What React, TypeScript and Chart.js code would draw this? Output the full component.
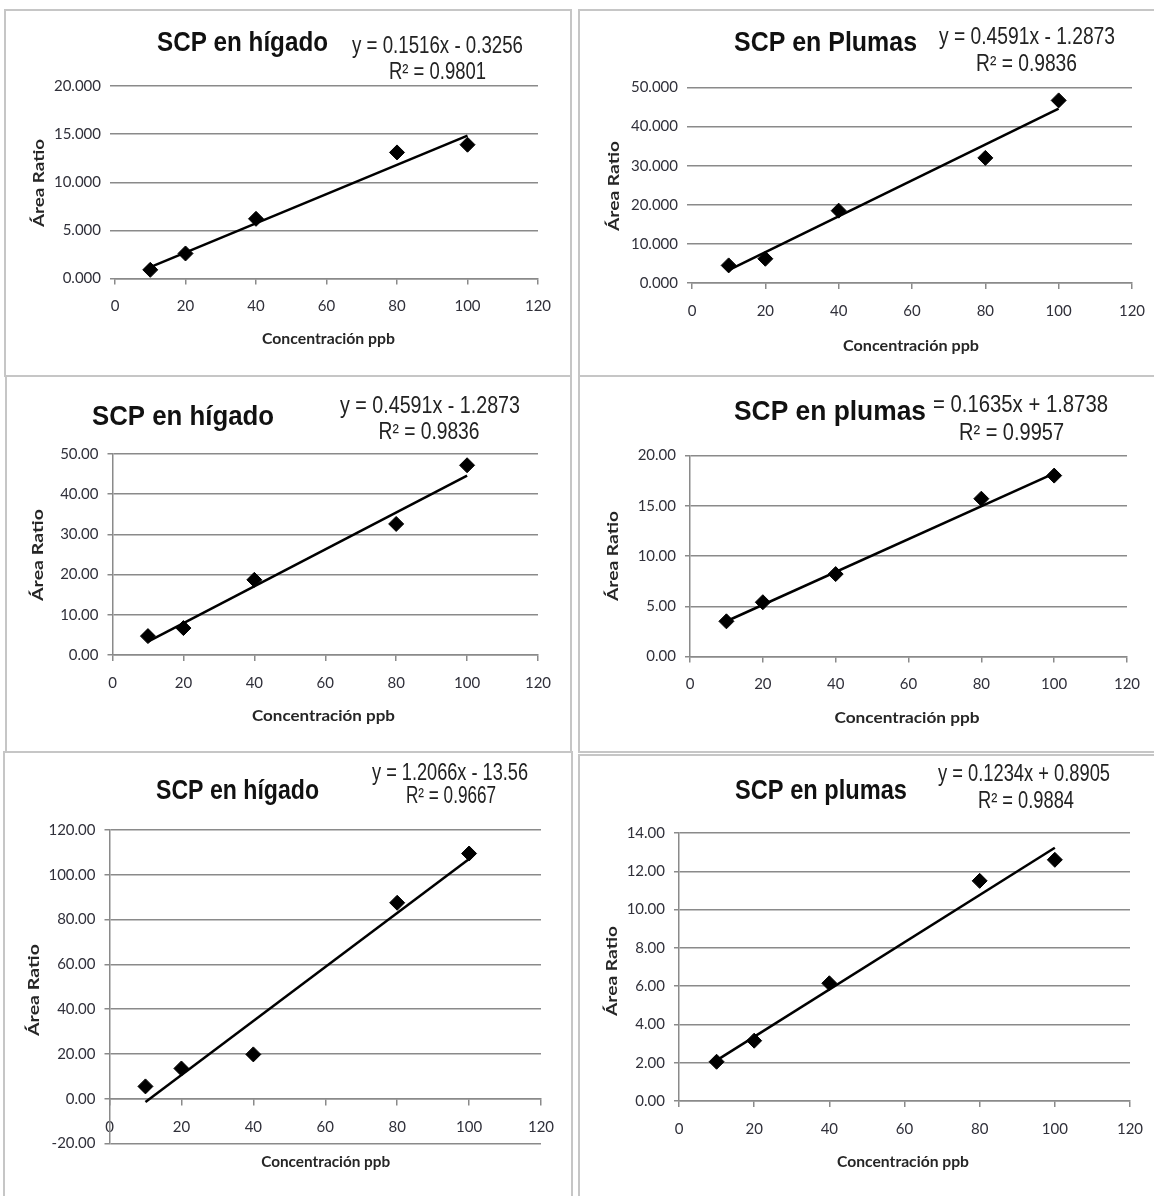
import React, { useEffect, useRef } from "react";
import { Chart, registerables } from "chart.js";

Chart.register(...registerables);

// ---------------- data ----------------
const concentrationPpb = [10, 20, 40, 80, 100];

const higadoA = [0.9, 2.6, 6.2, 13.1, 13.9];
const plumasA = [4.5, 6.2, 18.5, 32.0, 46.7];
const higadoB = [4.7, 6.7, 18.7, 32.6, 47.2];
const plumasB = [3.5, 5.4, 8.2, 15.7, 18.0];
const higadoC = [5.5, 13.5, 19.8, 87.5, 109.5];
const plumasC = [2.05, 3.15, 6.15, 11.5, 12.6];

const seriesByPanel = [higadoA, plumasA, higadoB, plumasB, higadoC, plumasC];

const panelTitles = [
  "SCP en hígado",
  "SCP en Plumas",
  "SCP en hígado",
  "SCP en plumas",
  "SCP en hígado",
  "SCP en plumas",
];
const equationTexts = [
  "y = 0.1516x - 0.3256",
  "y = 0.4591x - 1.2873",
  "y = 0.4591x - 1.2873",
  "= 0.1635x + 1.8738",
  "y = 1.2066x - 13.56",
  "y = 0.1234x + 0.8905",
];
const rSquaredTexts = [
  "R² = 0.9801",
  "R² = 0.9836",
  "R² = 0.9836",
  "R² = 0.9957",
  "R² = 0.9667",
  "R² = 0.9884",
];
const trendSlopes = [0.1516, 0.4591, 0.4591, 0.1635, 1.2066, 0.1234];
const trendIntercepts = [-0.3256, -1.2873, -1.2873, 1.8738, -13.56, 0.8905];

const xMin = 0;
const xMax = 120;
const xStep = 20;
const yMins = [0, 0, 0, 0, -20, 0];
const yMaxs = [20, 50, 50, 20, 120, 14];
const ySteps = [5, 10, 10, 5, 20, 2];
const yDecimals = [3, 3, 2, 2, 2, 2];

const xAxisTitle = "Concentración ppb";
const yAxisTitle = "Área Ratio";

// ---------------- layout (page pixels) ----------------
type Box = [number, number, number, number];
type TextPos = [number, number, number]; // centre x, centre y, width
interface PanelLayout {
  box: Box;
  plot: Box;
  title: TextPos;
  eq: TextPos;
  r2: TextPos;
  yTitle: TextPos;
  xTitle: TextPos;
  yAxisLine: boolean;
  xAtZero: boolean;
}

const PAGE_W = 1154;
const PAGE_H = 1196;

const layouts: PanelLayout[] = [
  {
    box: [4, 9, 572, 377],
    plot: [115, 86, 538, 278.5],
    title: [242.5, 43, 171],
    eq: [437.5, 46.5, 171],
    r2: [437.5, 72.5, 97],
    yTitle: [39, 183, 88],
    xTitle: [328.5, 339, 133],
    yAxisLine: false,
    xAtZero: false,
  },
  {
    box: [578, 9, 1170, 377],
    plot: [692, 87.5, 1132, 283],
    title: [825.5, 43, 183],
    eq: [1027, 37.5, 176],
    r2: [1026.5, 65, 101],
    yTitle: [614, 186, 90],
    xTitle: [911, 346, 136],
    yAxisLine: false,
    xAtZero: false,
  },
  {
    box: [5, 375, 572, 753],
    plot: [112.5, 454, 538, 655],
    title: [183, 417, 182],
    eq: [430, 407, 180],
    r2: [429, 433, 101],
    yTitle: [38, 555, 92],
    xTitle: [323.5, 716, 143],
    yAxisLine: true,
    xAtZero: false,
  },
  {
    box: [578, 375, 1170, 753],
    plot: [690, 455.5, 1127, 656.5],
    title: [830, 412, 192],
    eq: [1020.5, 406, 175],
    r2: [1011.5, 434, 105],
    yTitle: [613, 556, 90],
    xTitle: [907, 718, 145],
    yAxisLine: true,
    xAtZero: false,
  },
  {
    box: [3, 751, 573, 1210],
    plot: [109.5, 830, 541, 1143.5],
    title: [237.5, 791, 163],
    eq: [450, 774, 156],
    r2: [451, 797, 90],
    yTitle: [34, 990, 92],
    xTitle: [325.7, 1162, 129],
    yAxisLine: true,
    xAtZero: true,
  },
  {
    box: [578, 754, 1170, 1210],
    plot: [679, 833, 1130, 1101],
    title: [821, 791, 172],
    eq: [1024, 775, 172],
    r2: [1026, 802, 96],
    yTitle: [612, 971, 90],
    xTitle: [903, 1162, 132],
    yAxisLine: true,
    xAtZero: false,
  },
];

const GRID = "#8a8a8a";
const TICK_FONT = { family: "Lato, 'Open Sans', sans-serif", size: 15 };
const TICK_COLOR = "#30303a";

function drawFitted(
  ctx: CanvasRenderingContext2D,
  text: string,
  cx: number,
  cy: number,
  font: string,
  width: number,
  color: string,
  rotate = false
) {
  ctx.save();
  ctx.font = font;
  const w = ctx.measureText(text).width;
  const sx = width > 0 && w > 0 ? width / w : 1;
  ctx.translate(cx, cy);
  if (rotate) ctx.rotate(-Math.PI / 2);
  ctx.scale(sx, 1);
  ctx.textAlign = "center";
  ctx.textBaseline = "middle";
  ctx.fillStyle = color;
  ctx.fillText(text, 0, 0);
  ctx.restore();
}

function Panel({ idx }: { idx: number }) {
  const ref = useRef<HTMLCanvasElement>(null);
  const L = layouts[idx];
  const [bl, bt, br, bb] = L.box;
  const W = br - bl;
  const H = bb - bt;

  useEffect(() => {
    if (!ref.current) return;
    const [pl, pt, pr, pb] = L.plot;
    const left = pl - bl;
    const top = pt - bt;
    const right = pr - bl;
    const bottom = pb - bt;

    const pts = concentrationPpb.map((x, i) => ({ x, y: seriesByPanel[idx][i] }));
    const x0 = concentrationPpb[0];
    const x1 = concentrationPpb[concentrationPpb.length - 1];
    const trend = [
      { x: x0, y: trendSlopes[idx] * x0 + trendIntercepts[idx] },
      { x: x1, y: trendSlopes[idx] * x1 + trendIntercepts[idx] },
    ];

    const textPlugin = {
      id: "panelText",
      afterDraw(chart: any) {
        const ctx = chart.ctx as CanvasRenderingContext2D;
        const T = (p: TextPos) => [p[0] - bl, p[1] - bt, p[2]] as const;
        let [x, y, w] = T(L.title);
        drawFitted(ctx, panelTitles[idx], x, y, "bold 28px 'Liberation Sans', Arial, sans-serif", w, "#111111");
        [x, y, w] = T(L.eq);
        drawFitted(ctx, equationTexts[idx], x, y, "23px 'Liberation Sans', Arial, sans-serif", w, "#222222");
        [x, y, w] = T(L.r2);
        drawFitted(ctx, rSquaredTexts[idx], x, y, "23px 'Liberation Sans', Arial, sans-serif", w, "#222222");
        [x, y, w] = T(L.xTitle);
        drawFitted(ctx, xAxisTitle, x, y, "bold 15px Lato, 'Open Sans', sans-serif", w, "#262626");
        [x, y, w] = T(L.yTitle);
        drawFitted(ctx, yAxisTitle, x, y, "bold 15px Lato, 'Open Sans', sans-serif", w, "#262626", true);
      },
    };

    const xScale: any = {
      type: "linear",
      min: xMin,
      max: xMax,
      ticks: {
        stepSize: xStep,
        font: TICK_FONT,
        color: TICK_COLOR,
        padding: 13,
      },
      grid: {
        drawOnChartArea: false,
        drawTicks: true,
        tickLength: 6,
        color: GRID,
        lineWidth: 1.5,
      },
      border: { display: true, color: GRID, width: 1.5 },
    };
    if (L.xAtZero) {
      xScale.position = { y: 0 };
    } else {
      xScale.position = "bottom";
      xScale.afterFit = (s: any) => {
        s.height = H - bottom;
      };
    }

    const chart = new Chart(ref.current, {
      type: "scatter",
      data: {
        datasets: [
          {
            data: trend,
            showLine: true,
            borderColor: "#000000",
            borderWidth: 2.5,
            pointRadius: 0,
            pointHoverRadius: 0,
          },
          {
            data: pts,
            showLine: false,
            pointStyle: "rectRot",
            pointRadius: 7.5,
            pointBackgroundColor: "#000000",
            pointBorderColor: "#000000",
            pointBorderWidth: 1,
          },
        ],
      },
      options: {
        responsive: false,
        maintainAspectRatio: false,
        animation: false,
        devicePixelRatio: 1,
        layout: {
          padding: {
            left: 0,
            top: top,
            right: W - right,
            bottom: L.xAtZero ? H - bottom : 0,
          },
        },
        plugins: {
          legend: { display: false },
          tooltip: { enabled: false },
          title: { display: false },
        },
        scales: {
          x: xScale,
          y: {
            type: "linear",
            position: "left",
            min: yMins[idx],
            max: yMaxs[idx],
            ticks: {
              stepSize: ySteps[idx],
              font: TICK_FONT,
              color: TICK_COLOR,
              padding: 9,
              callback: (v: any) => Number(v).toFixed(yDecimals[idx]),
            },
            grid: {
              color: GRID,
              lineWidth: 1.5,
              drawTicks: true,
              tickLength: 5,
            },
            border: { display: L.yAxisLine, color: GRID, width: 1.5 },
            afterFit: (s: any) => {
              s.width = left;
            },
          },
        },
      },
      plugins: [textPlugin],
    } as any);
    return () => chart.destroy();
  }, [idx]);

  return (
    <div style={{ position: "absolute", left: bl, top: bt, width: W, height: H }}>
      <canvas
        ref={ref}
        width={W}
        height={H}
        style={{ position: "absolute", left: 0, top: 0, width: W, height: H }}
      />
      <div
        style={{
          position: "absolute",
          left: 0,
          top: 0,
          width: W,
          height: H,
          border: "2px solid #c6c6c6",
          boxSizing: "border-box",
          pointerEvents: "none",
        }}
      />
    </div>
  );
}

export default function App() {
  return (
    <div
      style={{
        position: "absolute",
        left: 0,
        top: 0,
        width: PAGE_W,
        height: PAGE_H,
        overflow: "hidden",
        background: "#ffffff",
      }}
    >
      {layouts.map((_, i) => (
        <Panel key={i} idx={i} />
      ))}
    </div>
  );
}
